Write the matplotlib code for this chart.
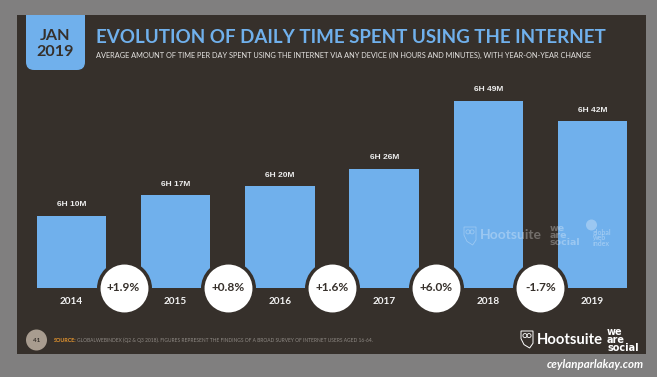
import matplotlib
matplotlib.use("Agg")
import matplotlib.pyplot as plt
from matplotlib.patches import Rectangle, FancyBboxPatch, Circle, Polygon

W, H = 657, 377
years = ["2014", "2015", "2016", "2017", "2018", "2019"]
minutes = [370, 377, 380, 386, 409, 402]
value_labels = ["6H 10M", "6H 17M", "6H 20M", "6H 26M", "6H 49M", "6H 42M"]
changes = ["+1.9%", "+0.8%", "+1.6%", "+6.0%", "-1.7%"]

BG = "#807f7f"; PANEL = "#36302b"; BLUE = "#70b0ec"; WHITE = "#ffffff"
SANS = "Lato"; WIDE = "DejaVu Sans"
Y0 = 345.7

fig = plt.figure(figsize=(W / 100, H / 100), dpi=100, facecolor=BG)

# pixel-space layer for slide furniture
deco = fig.add_axes([0, 0, 1, 1], zorder=0)
deco.set_xlim(0, W); deco.set_ylim(H, 0); deco.axis("off")
panel = Rectangle((17, 15), 629, 339, fc=PANEL, ec="none")
deco.add_patch(panel)
tab = FancyBboxPatch((26, 0), 59, 70, boxstyle="round,pad=0,rounding_size=8", fc=BLUE, ec="none")
deco.add_patch(tab)
tab.set_clip_path(panel)
deco.text(55.5, 36, "JAN", ha="center", va="center", family=SANS, weight="bold", size=11.6, color=PANEL)
deco.text(55.5, 52, "2019", ha="center", va="center", family=SANS, weight="bold", size=11.6, color=PANEL)
deco.text(96.5, 37.5, "EVOLUTION OF DAILY TIME SPENT USING THE INTERNET", ha="left", va="center",
          family=SANS, weight="bold", size=13.5, color=BLUE)
deco.text(96.5, 55, "AVERAGE AMOUNT OF TIME PER DAY SPENT USING THE INTERNET VIA ANY DEVICE (IN HOURS AND MINUTES), WITH YEAR-ON-YEAR CHANGE",
          ha="left", va="center", family=SANS, size=5.28, color="#e6e4e2")

# chart layer
ax = fig.add_axes([17 / W, 1 - 287.5 / H, 629 / W, (287.5 - 15) / H], zorder=1)
ax.patch.set_alpha(0)
ax.set_xlim(-0.523, 5.513)
ax.set_ylim(Y0, Y0 + 272.5 / 2.95)
ax.axis("off")
xs = range(len(years))
ax.bar(xs, minutes, width=0.667, color=BLUE, linewidth=0)
for x, m, lab in zip(xs, minutes, value_labels):
    ax.annotate(lab, (x, m), xytext=(0, 7.8), textcoords="offset points", ha="center", va="center",
                family="Liberation Sans", weight="bold", size=6.0, color="#eeeeee")
    ax.annotate(years[x], (x, Y0), xytext=(0, -10), textcoords="offset points", ha="center", va="center",
                family=SANS, weight="bold", size=7.2, color="#f2f2f2", annotation_clip=False)
mid = [i + 0.5 for i in range(len(changes))]
base = [Y0] * len(changes)
ax.scatter(mid, base, s=1570, color=PANEL, linewidth=0, clip_on=False, zorder=3)
ax.scatter(mid, base, s=1190, color=WHITE, linewidth=0, clip_on=False, zorder=4)
for x, c in zip(mid, changes):
    ax.annotate(c, (x, Y0), ha="center", va="center", family=SANS, weight="bold", size=8.6,
                color=PANEL, zorder=5, annotation_clip=False)


def owl(axis, x, y, w, h, **kw):
    axis.add_patch(Polygon([(x, y), (x + w, y), (x + w, y + h * .72), (x + w * .72, y + h),
                            (x + w * .25, y + h * .8), (x, y + h * .45)], closed=True, **kw))
    axis.add_patch(Circle((x + w * .33, y + h * .27), w * .17, fc="none", ec=kw.get("ec"), lw=.6, alpha=kw.get("alpha")))
    axis.add_patch(Circle((x + w * .67, y + h * .27), w * .17, fc="none", ec=kw.get("ec"), lw=.6, alpha=kw.get("alpha")))


# watermark over the bars
top = fig.add_axes([0, 0, 1, 1], zorder=2)
top.set_xlim(0, W); top.set_ylim(H, 0); top.axis("off"); top.patch.set_alpha(0)
wm = dict(color="white", alpha=0.3, weight="bold")
owl(top, 464, 227, 12, 18, fc="none", ec="white", lw=.6, alpha=0.3)
top.text(480, 235, "Hootsuite", ha="left", va="center", size=10, family=SANS, **wm)
top.text(550, 235.5, "we\nare\nsocial", ha="left", va="center", size=6.8, linespacing=0.72, family=WIDE, **wm)
top.add_patch(Circle((591.5, 225), 5.5, fc="white", ec="none", alpha=0.3))
top.text(593, 238, "global\nweb\nindex", ha="left", va="center", size=5, linespacing=0.8, family=SANS, **wm)

# footer
deco.add_patch(Circle((36.5, 340), 10.5, fc="#a89c8f", ec="none"))
deco.text(36.5, 340, "41", ha="center", va="center", family=SANS, weight="bold", size=4.6, color=PANEL)
deco.text(54, 340.5, "SOURCE:", ha="left", va="center", family=SANS, weight="bold", size=3.9, color="#e8972e")
deco.text(77, 340.5, "GLOBALWEBINDEX (Q2 & Q3 2018). FIGURES REPRESENT THE FINDINGS OF A BROAD SURVEY OF INTERNET USERS AGED 16-64.",
          ha="left", va="center", family=SANS, size=3.55, color="#8f8a85")
owl(deco, 521, 331, 12, 17, fc="none", ec="white", lw=.7)
deco.text(537, 339.5, "Hootsuite", ha="left", va="center", family=SANS, weight="bold", size=10.6, color="white")
deco.text(607, 340, "we\nare\nsocial", ha="left", va="center", family=WIDE, weight="bold", size=7,
          linespacing=0.75, color="white")
deco.text(644, 364.5, "ceylanparlakay.com", ha="right", va="center", family=SANS, weight="bold",
          style="italic", size=8.3, color="white")

fig.savefig("out.png", dpi=100, facecolor=BG)
